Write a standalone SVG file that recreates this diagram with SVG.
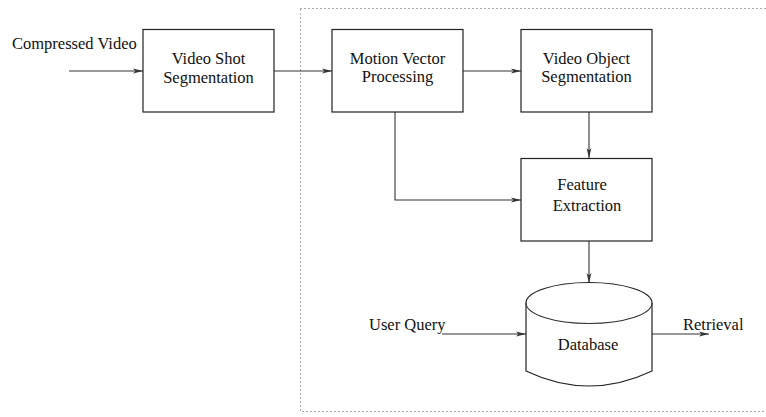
<svg xmlns="http://www.w3.org/2000/svg" width="766" height="417" viewBox="0 0 766 417">
<defs>
<style>
.box{fill:#fff;stroke:#222;stroke-width:1.2}
.ln{fill:none;stroke:#333;stroke-width:1.1}
text{font-family:"Liberation Serif","Times New Roman",serif;font-size:16.5px;fill:#111}
.c{text-anchor:middle}
</style>
<marker id="ah" viewBox="0 0 10 6" refX="10" refY="3" markerWidth="10" markerHeight="6" markerUnits="userSpaceOnUse" orient="auto">
<path d="M0,0.6 L10,3 L0,5.4 L2.5,3 Z" fill="#333"/>
</marker>
</defs>
<rect x="300.5" y="8.5" width="470" height="403" fill="none" stroke="#555" stroke-width="1" stroke-dasharray="1,3"/>
<g id="connectors">
<line class="ln" x1="69" y1="71" x2="143" y2="71" marker-end="url(#ah)"/>
<line class="ln" x1="274" y1="71" x2="332" y2="71" marker-end="url(#ah)"/>
<line class="ln" x1="463" y1="71" x2="521" y2="71" marker-end="url(#ah)"/>
<line class="ln" x1="589" y1="112" x2="589" y2="158" marker-end="url(#ah)"/>
<polyline class="ln" points="395,112 395,200 521,200" marker-end="url(#ah)"/>
<line class="ln" x1="589" y1="241" x2="589" y2="283" marker-end="url(#ah)"/>
<line class="ln" x1="442" y1="334" x2="526" y2="334" marker-end="url(#ah)"/>
<line class="ln" x1="652" y1="334" x2="709" y2="334" marker-end="url(#ah)"/>
</g>
<g id="compressed-video"><text x="12" y="49">Compressed Video</text></g>
<g id="video-shot-segmentation">
<rect class="box" x="143" y="29.5" width="131" height="82.5"/>
<text class="c" x="208.5" y="64">Video Shot</text>
<text class="c" x="208.5" y="83">Segmentation</text>
</g>
<g id="motion-vector-processing">
<rect class="box" x="332" y="29.5" width="131" height="82.5"/>
<text class="c" x="397.5" y="64">Motion Vector</text>
<text class="c" x="397.5" y="82">Processing</text>
</g>
<g id="video-object-segmentation">
<rect class="box" x="521" y="29.5" width="131" height="82.5"/>
<text class="c" x="586.5" y="64">Video Object</text>
<text class="c" x="586.5" y="82">Segmentation</text>
</g>
<g id="feature-extraction">
<rect class="box" x="521" y="158.5" width="131" height="82.5"/>
<text class="c" x="582" y="190">Feature</text>
<text class="c" x="587" y="211">Extraction</text>
</g>
<g id="database">
<path class="box" d="M526,303 A63,20.5 0 0 1 652,303 L652,371 Q589,401 526,371 Z"/>
<path class="ln" d="M526,303 A63,20.5 0 0 0 652,303" stroke="#222" stroke-width="1.2"/>
<text class="c" x="588" y="350">Database</text>
</g>
<g id="user-query"><text x="369" y="330">User Query</text></g>
<g id="retrieval"><text x="683" y="330">Retrieval</text></g>
</svg>
